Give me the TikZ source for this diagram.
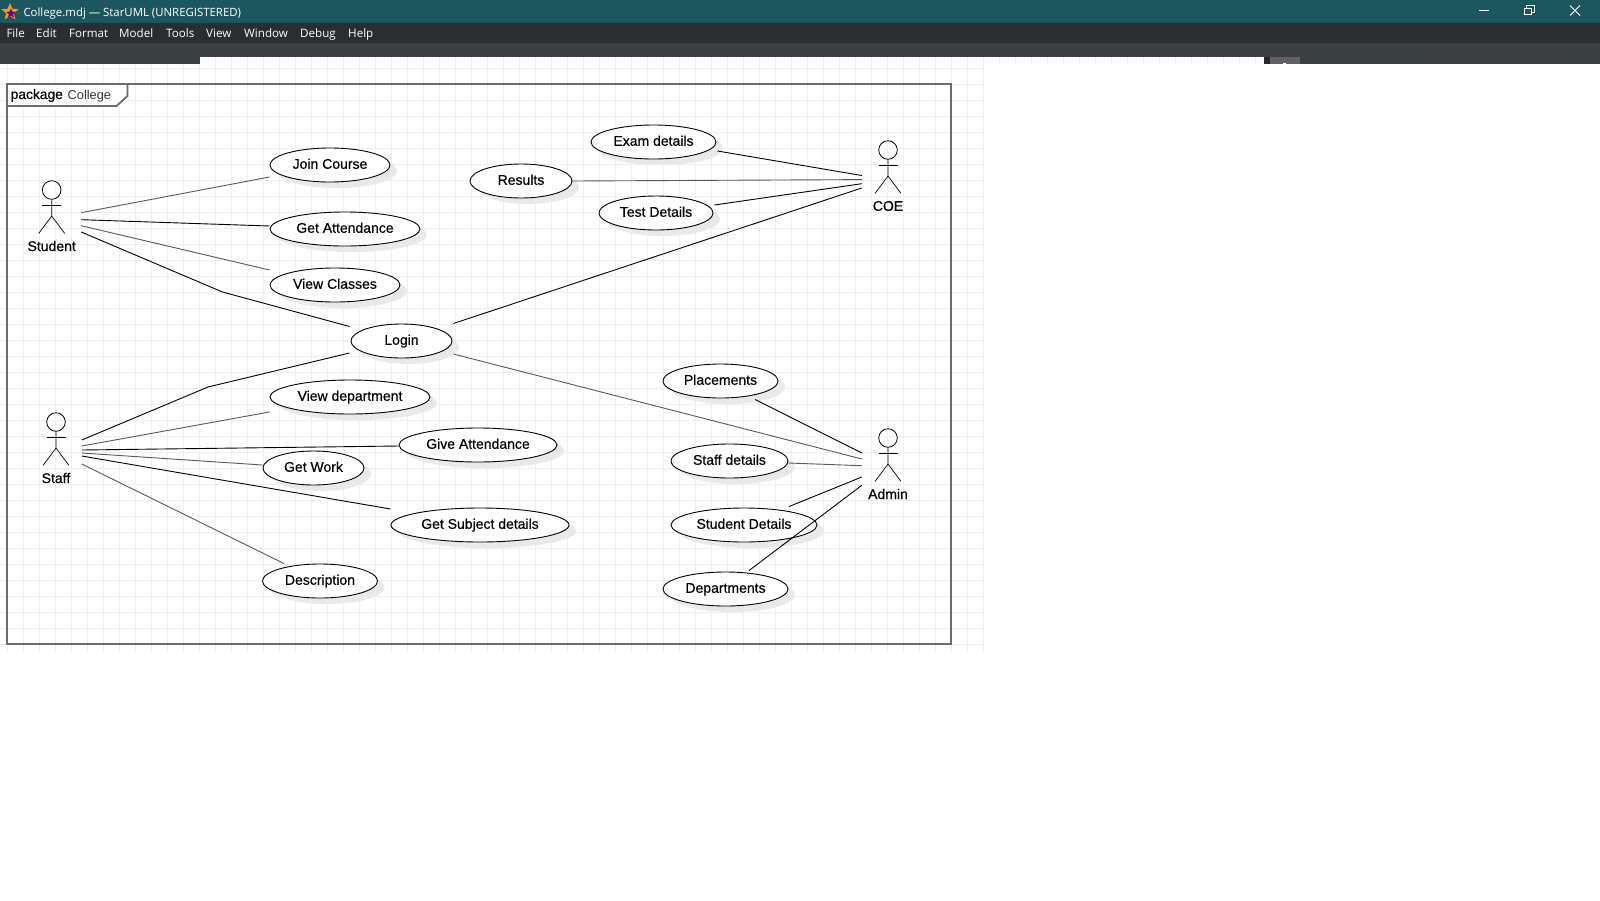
\documentclass[tikz,border=0pt]{standalone}
\usepackage{fontspec}
\setmainfont{Liberation Sans}
\newfontfamily\uifont{Open Sans}
\newfontfamily\labelfont{Liberation Sans}[FakeBold=0.45]
\usetikzlibrary{shapes.geometric,shadows}
\definecolor{titlebar}{HTML}{1C565E}
\definecolor{menubar}{HTML}{2B2D30}
\definecolor{toolbar}{HTML}{3B4043}
\definecolor{gridgray}{HTML}{EFEFEF}
\definecolor{framegray}{HTML}{6C6C6C}
\definecolor{shadowgray}{HTML}{E9E9E9}
\tikzset{
  usecase/.style={ellipse,draw=black,fill=white,line width=0.9pt,minimum height=34pt,inner sep=0pt,
    text height=10.5pt,text depth=3pt,font=\labelfont\fontsize{14}{16}\selectfont,
    general shadow={shadow xshift=7pt,shadow yshift=-6pt,fill=shadowgray,draw=none}},
  actorbox/.style={rectangle,minimum height=60pt,inner sep=0pt},
  actorhead/.style={circle,draw=black,line width=0.8pt,minimum size=18.6pt,inner sep=0pt},
  actorline/.style={draw=black,line width=0.7pt},
  actorlabel/.style={inner sep=0pt,font=\labelfont\fontsize{14}{16}\selectfont},
  assoc/.style={draw=black,line width=0.9pt},
  assocthin/.style={draw=black!65,line width=0.9pt},
  menuitem/.style={anchor=base west,inner sep=0pt,text=white,font=\uifont\fontsize{11.6}{14}\selectfont},
  winbutton/.style={draw=white,line width=0.9pt}
}
\newcommand{\actorfig}[5]{
  \node[actorbox,minimum width=2*#4 pt] (#1) at (#2,#3+25) {};
  \node[actorhead] (#1head) at (#2,#3) {};
  \draw[actorline] (#1head.south) -- ++(0,16.4) coordinate (#1hip) -- ++(-13,17.3);
  \draw[actorline] (#1hip) -- ++(13,17.3);
  \draw[actorline] ([xshift=-9.5pt,yshift=-5.7pt]#1head.south) -- ++(19,0);
  \node[actorlabel] (#1label) at (#2,#3+56) {#5};
}
\begin{document}
\begin{tikzpicture}[x=1pt,y=-1pt]
  \useasboundingbox (0,0) rectangle (1600,900);
  \fill[white] (0,0) rectangle (1600,900);
  % canvas grid
  \foreach \gx in {7,23,...,983} \draw[gridgray,line width=0.9pt] (\gx,57) -- (\gx,652);
  \foreach \gx in {999,1015,...,1256} \draw[gridgray,line width=0.9pt] (\gx,57) -- (\gx,64);
  \foreach \gy in {68,84,...,644} \draw[gridgray,line width=0.9pt] (0,\gy) -- (985,\gy);
  % window bars
  \fill[titlebar] (0,0) rectangle (1600,23);
  \fill[menubar] (0,23) rectangle (1600,43);
  \fill[toolbar] (0,43) rectangle (1600,57);
  \fill[toolbar] (0,57) rectangle (200,64);
  \fill[toolbar] (1300,57) rectangle (1600,64);
  \fill[black!85] (1264,57) rectangle (1270,64);
  \fill[black!62] (1270,57) rectangle (1300,64);
  \fill[white] (1283,63) rectangle (1286,64);
  \fill[black!75] (1427,62) rectangle (1558,64);
  \node[star,star points=5,star point ratio=2.2,fill=orange!80!yellow,inner sep=0pt,minimum size=18pt] (staricon) at (10,12) {};
  \node[star,star points=5,star point ratio=2.2,fill=violet!70!blue,inner sep=0pt,minimum size=10pt] (starcore) at (11,13.5) {};
  \node[menuitem,font=\uifont\fontsize{11.4}{14}\selectfont] (title) at (23.3,16) {College.mdj — StarUML (UNREGISTERED)};
  \node[menuitem] (mfile) at (6.3,37.5) {File};
  \node[menuitem] (medit) at (36,37.5) {Edit};
  \node[menuitem] (mformat) at (69,37.5) {Format};
  \node[menuitem] (mmodel) at (119,37.5) {Model};
  \node[menuitem] (mtools) at (166,37.5) {Tools};
  \node[menuitem] (mview) at (206,37.5) {View};
  \node[menuitem] (mwindow) at (244,37.5) {Window};
  \node[menuitem] (mdebug) at (300,37.5) {Debug};
  \node[menuitem] (mhelp) at (348,37.5) {Help};
  \draw[winbutton] (1479,10.5) -- (1489,10.5);
  \draw[winbutton] (1526,8) -- (1526,5.5) -- (1534,5.5) -- (1534,12) -- (1531,12);
  \draw[winbutton] (1524.5,8) rectangle (1531,14.5);
  \draw[winbutton] (1570,5.5) -- (1580,15.5) (1580,5.5) -- (1570,15.5);
  % package frame
  \draw[framegray,line width=1.8pt] (7,84) rectangle (951,644);
  \draw[framegray,line width=1.8pt,fill=white] (7,84) -- (127.5,84) -- (127.5,96) -- (116.5,106) -- (7,106) -- cycle;
  \node[anchor=base west,inner sep=0pt,font=\labelfont\fontsize{13.8}{16}\selectfont] (pkgkey) at (10.5,99) {package};
  \node[anchor=base west,inner sep=0pt,text=black!80,font=\fontsize{12.8}{16}\selectfont] (pkgname) at (67.5,99) {College};
  % use cases
  \node[usecase,minimum width=120pt] (join) at (330,165) {Join Course};
  \node[usecase,minimum width=150pt] (getatt) at (345,229) {Get Attendance};
  \node[usecase,minimum width=130pt] (viewcl) at (335,285) {View Classes};
  \node[usecase,minimum width=101pt] (login) at (401.5,341) {Login};
  \node[usecase,minimum width=160pt] (viewdep) at (350,397) {View department};
  \node[usecase,minimum width=158pt] (giveatt) at (478,445) {Give Attendance};
  \node[usecase,minimum width=101pt] (getwork) at (313.5,468) {Get Work};
  \node[usecase,minimum width=178pt] (subject) at (480,525) {Get Subject details};
  \node[usecase,minimum width=115pt] (descr) at (320,581) {Description};
  \node[usecase,minimum width=125pt] (exam) at (653.5,142) {Exam details};
  \node[usecase,minimum width=102pt] (results) at (521,181) {Results};
  \node[usecase,minimum width=114pt] (test) at (656,213) {Test Details};
  \node[usecase,minimum width=115pt] (placem) at (720.5,381) {Placements};
  \node[usecase,minimum width=117pt] (staffd) at (729.5,461) {Staff details};
  \node[usecase,minimum width=146pt] (studd) at (744,525) {Student Details};
  \node[usecase,minimum width=125pt] (depart) at (725.5,589) {Departments};
  % actors
  \actorfig{student}{51.7}{190}{29.3}{Student}
  \actorfig{staff}{56}{422}{25.6}{Staff}
  \actorfig{coe}{888}{150}{26}{COE}
  \actorfig{admin}{888}{438}{26}{Admin}
  \coordinate (studentbend) at (222.5,292);
  \coordinate (staffbend) at (208,387);
  % associations
  \draw[assocthin] ([yshift=2.3pt]student.east) -- ([yshift=-12pt]join.west);
  \draw[assoc] ([yshift=-4.7pt]student.east) -- ([yshift=3pt]getatt.west);
  \draw[assocthin] ([yshift=-10.7pt]student.east) -- ([yshift=15pt]viewcl.west);
  \draw[assoc] ([yshift=-17pt]student.east) -- (studentbend) -- ([xshift=-1pt,yshift=14.5pt]login.west);
  \draw[assoc] ([yshift=7pt]staff.east) -- (staffbend) -- ([xshift=-1pt,yshift=-12pt]login.west);
  \draw[assocthin] ([yshift=1pt]staff.east) -- ([yshift=-15pt]viewdep.west);
  \draw[assoc] ([yshift=-3pt]staff.east) -- ([yshift=-1pt]giveatt.west);
  \draw[assocthin] ([yshift=-6pt]staff.east) -- ([yshift=3pt]getwork.west);
  \draw[assoc] ([yshift=-9pt]staff.east) -- ([yshift=16pt]subject.west);
  \draw[assocthin] ([yshift=-17pt]staff.east) -- ([xshift=-36pt]descr.north);
  \draw[assoc] ([xshift=1pt,yshift=-9pt]exam.east) -- ([yshift=-0.5pt]coe.west);
  \draw[assocthin] (results.east) -- ([yshift=-4.6pt]coe.west);
  \draw[assoc] ([xshift=1pt,yshift=8pt]test.east) -- ([yshift=-8.7pt]coe.west);
  \draw[assoc] ([xshift=1pt,yshift=17.5pt]login.east) -- ([yshift=-13pt]coe.west);
  \draw[assocthin] ([xshift=1pt,yshift=-13pt]login.east) -- ([yshift=4pt]admin.west);
  \draw[assoc] ([xshift=34.5pt,yshift=-1pt]placem.south) -- ([yshift=10pt]admin.west);
  \draw[assocthin] ([yshift=-2pt]staffd.east) -- ([yshift=-2.7pt]admin.west);
  \draw[assoc] ([xshift=45pt,yshift=1pt]studd.north) -- ([yshift=-14pt]admin.west);
  \draw[assoc] ([xshift=23.5pt,yshift=1pt]depart.north) -- ([yshift=-22.3pt]admin.west);
\end{tikzpicture}
\end{document}
